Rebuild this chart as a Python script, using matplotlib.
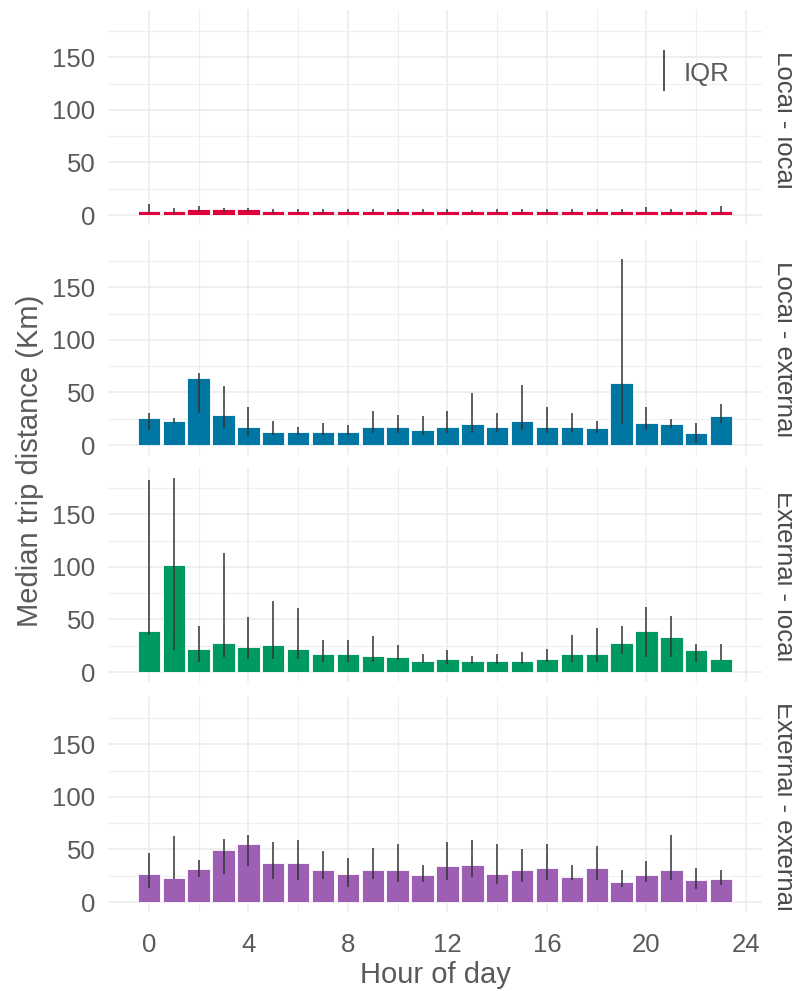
import matplotlib
matplotlib.use("Agg")
import matplotlib.pyplot as plt

plt.rcParams['font.family'] = ['Liberation Sans', 'DejaVu Sans']

hours = list(range(24))

panels = ["Local - local", "Local - external", "External - local", "External - external"]
colors = ["#E0003C", "#0076A3", "#009A60", "#9C5FB4"]

# median trip distance per hour, with IQR (q25, q75)
ll_med = [4, 4, 5.5, 5.5, 5.3, 4, 4, 4, 4, 4, 4, 4, 4, 4, 4, 4, 4, 4, 4, 4, 4, 4, 4, 4]
ll_lo = [2, 2, 3, 3, 3, 2, 2, 2, 2, 2, 2, 2, 2, 2, 2, 2, 2, 2, 2, 2, 2, 2, 2, 2]
ll_hi = [10.5, 7, 8.8, 7, 7, 5.7, 5.7, 5.7, 5.7, 5.7, 5.7, 5.7, 5.5, 5, 5.5, 6, 5.5, 6, 5.5, 5.5, 7.3, 6, 4.5, 9]

le_med = [26, 22.5, 64, 29, 17.4, 12.7, 12.7, 12.7, 12.7, 17.4, 17.4, 14.2,
          17.4, 19.6, 17.4, 22.5, 17.4, 17.4, 15.8, 58.9, 20.9, 19.6, 11, 27.5]
le_lo = [14.2, 21, 30.7, 15.8, 8.9, 9.5, 9.5, 9.5, 9.5, 11, 11, 9.5,
         11, 11, 12.7, 14.2, 11, 12.7, 11, 19.6, 14.2, 15.8, 1.6, 21.2]
le_hi = [30.7, 26, 68.7, 56, 35.8, 22.5, 17.4, 20.9, 19.3, 32.3, 29, 27.5,
         32.3, 49, 30.7, 57, 35.8, 30.7, 22.5, 177, 35.8, 24.4, 21.2, 39]

el_med = [38.7, 101.4, 22.2, 27.2, 23.8, 25.3, 22.2, 17.1, 17.1, 15.5, 13.9, 10.5,
          12, 10.5, 10.5, 10.5, 12, 17.1, 17.1, 27.2, 38.7, 33.6, 20.6, 12]
el_lo = [35.5, 21.2, 9.5, 14.3, 12.4, 12.4, 12.4, 9.5, 9.5, 9.5, 11.1, 8.6,
         7.6, 7.6, 7.6, 7.6, 9.5, 9.5, 9.5, 17.1, 14.3, 14.3, 9.5, 11.1]
el_hi = [182.8, 184.4, 43.4, 112.8, 52, 67.2, 60.8, 30.1, 30.1, 33.9, 25.3, 17.1,
         20.6, 15.5, 17.1, 18.7, 22.2, 35.2, 41.8, 43.4, 61.8, 53.5, 26.9, 26.9]

ee_med = [26.9, 23, 31.5, 49.5, 55.4, 37.1, 37.1, 30.7, 26.9, 30.7, 30.7, 25.3,
          33.9, 35.5, 26.9, 30.7, 32.3, 23.8, 32.3, 19, 25.3, 30.7, 20.6, 22.2]
ee_lo = [13.5, 22, 23.5, 26.6, 33.9, 22.2, 20.6, 22.2, 14.3, 22.2, 19, 19,
         20.6, 23.8, 17.4, 19, 20.6, 20.6, 20.6, 14.3, 19, 20.6, 12.7, 15.8]
ee_hi = [46.5, 62.5, 39.5, 59.5, 63.4, 57, 58.6, 48.5, 42.1, 51.6, 55.4, 34.9,
         57, 58.6, 55.4, 50, 55.4, 34.9, 53.2, 30.1, 38.6, 63.4, 32.3, 30.1]

meds = [ll_med, le_med, el_med, ee_med]
los = [ll_lo, le_lo, el_lo, ee_lo]
his = [ll_hi, le_hi, el_hi, ee_hi]

text_col = "#5a5a5a"
W, H = 792, 991
fig = plt.figure(figsize=(W / 100, H / 100), dpi=100)

left, right = 108, 762
tops = [10, 240, 467, 697]
ph = 215

for i in range(4):
    ax = fig.add_axes([left / W, 1 - (tops[i] + ph) / H, (right - left) / W, ph / H])
    ax.bar(hours, meds[i], width=0.9, color=colors[i], edgecolor="white",
           linewidth=0.6, zorder=2)
    ax.vlines(hours, los[i], his[i], color="#333333", linewidth=1.1, zorder=3)

    ax.set_xlim(-1.645, 24.645)
    ax.set_ylim(-9.5, 195)
    ax.set_xticks(range(0, 25, 4))
    ax.set_xticks(range(2, 24, 4), minor=True)
    ax.set_yticks([0, 50, 100, 150])
    ax.set_yticks([25, 75, 125, 175], minor=True)
    ax.grid(which="major", color="#EBEBEB", linewidth=1.1, zorder=0)
    ax.grid(which="minor", color="#EFEFEF", linewidth=0.8, zorder=0)
    ax.set_axisbelow(True)
    for s in ax.spines.values():
        s.set_visible(False)
    ax.tick_params(which="both", length=0, labelsize=18.5, labelcolor=text_col)
    ax.tick_params(axis="y", pad=9)
    ax.tick_params(axis="x", pad=15)
    if i < 3:
        ax.tick_params(axis="x", labelbottom=False)
    else:
        ax.set_xlabel("Hour of day", fontsize=21, color=text_col, labelpad=3)

    fig.text(777 / W, 1 - (tops[i] + ph / 2 + 2) / H, panels[i], rotation=-90,
             rotation_mode="anchor", ha="center", va="baseline",
             fontsize=18.5, color="#4a4a4a")

    if i == 0:
        ax.vlines([20.7], [118], [157], color="#333333", linewidth=1.2)
        ax.text(21.5, 134, "IQR", fontsize=18.5, color=text_col, va="center", ha="left")

fig.text(30 / W, 1 - 461 / H, "Median trip distance (Km)", rotation=90,
         ha="center", va="center", fontsize=21, color=text_col)

fig.savefig("out.png", dpi=100)
